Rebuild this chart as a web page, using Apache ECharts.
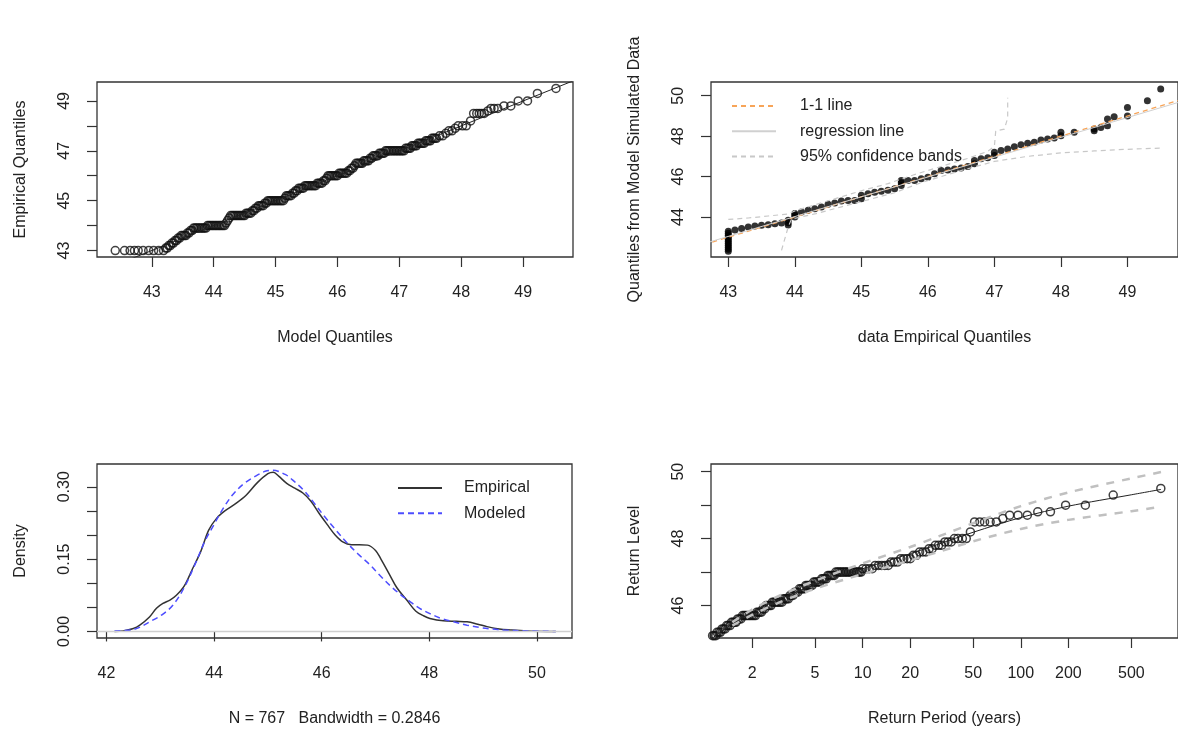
<!DOCTYPE html>
<html>
<head>
<meta charset="UTF-8">
<title>fevd diagnostics</title>
<script src="https://cdn.jsdelivr.net/npm/echarts@6/dist/echarts.min.js"></script>
</head>
<body style="margin:0;background:#fff">
<div id="main" style="width:1178px;height:729px;"></div>
<script type="text/javascript">
// ---- panel 1: qq plot (model quantiles, empirical quantiles)
var qqPoints = [
  [42.41,43],[42.56,43],[42.65,43],[42.72,43],[42.78,43],[42.86,43],[42.95,43],[43.03,43],[43.11,43],[43.19,43],
  [43.225,43.1],[43.25,43.1],[43.275,43.2],[43.3,43.2],[43.325,43.3],[43.35,43.3],[43.375,43.4],[43.4,43.4],
  [43.425,43.5],[43.45,43.5],[43.475,43.6],[43.5,43.6],[43.525,43.6],[43.55,43.6],[43.575,43.7],[43.6,43.7],
  [43.625,43.8],[43.65,43.8],[43.675,43.9],[43.7,43.9],[43.725,43.9],[43.75,43.9],[43.775,43.9],[43.8,43.9],
  [43.825,43.9],[43.85,43.9],[43.875,43.9],
  [43.9,44.0],[43.925,44.0],[43.95,44.0],[43.975,44.0],[44.0,44.0],[44.025,44.0],[44.05,44.0],[44.075,44.0],
  [44.1,44.0],[44.125,44.0],[44.15,44.0],[44.175,44.0],[44.2,44.1],[44.225,44.2],[44.25,44.3],
  [44.275,44.4],[44.3,44.4],[44.325,44.4],[44.35,44.4],[44.375,44.4],[44.4,44.4],[44.425,44.4],[44.45,44.4],
  [44.475,44.4],[44.5,44.4],[44.525,44.5],[44.55,44.5],[44.575,44.5],[44.6,44.5],[44.625,44.6],[44.65,44.6],
  [44.675,44.7],[44.7,44.7],[44.725,44.8],[44.75,44.8],[44.775,44.8],[44.8,44.8],[44.825,44.9],[44.85,44.9],
  [44.875,45.0],[44.9,45.0],[44.925,45.0],[44.95,45.0],[44.975,45.0],[45.0,45.0],[45.025,45.0],[45.05,45.0],
  [45.075,45.0],[45.1,45.0],[45.125,45.0],[45.15,45.1],[45.175,45.2],[45.2,45.2],[45.225,45.2],[45.25,45.2],
  [45.275,45.3],[45.3,45.3],[45.325,45.4],[45.35,45.4],[45.375,45.5],[45.4,45.5],[45.425,45.5],[45.45,45.5],
  [45.475,45.6],[45.5,45.6],[45.525,45.6],[45.55,45.6],[45.575,45.6],[45.6,45.6],[45.625,45.6],[45.65,45.6],
  [45.675,45.7],[45.7,45.7],[45.725,45.7],[45.75,45.7],[45.775,45.8],[45.8,45.8],[45.825,45.9],
  [45.85,46.0],[45.875,46.0],[45.9,46.0],[45.925,46.0],[45.95,46.0],[45.975,46.0],[46.0,46.0],
  [46.025,46.1],[46.05,46.1],[46.075,46.1],[46.1,46.1],[46.125,46.1],[46.15,46.1],
  [46.175,46.2],[46.2,46.2],[46.225,46.3],[46.25,46.3],[46.275,46.4],
  [46.3,46.5],[46.325,46.5],[46.35,46.5],[46.375,46.5],[46.4,46.5],
  [46.425,46.6],[46.45,46.6],[46.475,46.6],[46.5,46.6],[46.525,46.7],[46.55,46.7],
  [46.575,46.8],[46.6,46.8],[46.625,46.8],[46.65,46.8],[46.675,46.9],[46.7,46.9],[46.725,46.9],[46.75,46.9],
  [46.775,47.0],[46.8,47.0],[46.825,47.0],[46.85,47.0],[46.875,47.0],[46.9,47.0],[46.925,47.0],[46.95,47.0],
  [46.975,47.0],[47.0,47.0],[47.025,47.0],[47.05,47.0],[47.075,47.0],
  [47.1,47.1],[47.125,47.1],[47.15,47.1],[47.175,47.1],[47.2,47.2],[47.225,47.2],[47.25,47.2],[47.275,47.2],
  [47.3,47.3],[47.325,47.3],[47.35,47.3],[47.375,47.3],[47.4,47.3],[47.425,47.4],[47.45,47.4],[47.475,47.4],
  [47.5,47.4],[47.525,47.5],[47.55,47.5],[47.575,47.5],[47.6,47.5],
  [47.65,47.6],[47.7,47.6],[47.75,47.7],[47.8,47.8],[47.85,47.8],[47.9,47.9],[47.95,48.0],[48.02,48.0],[48.08,48.0],
  [48.15,48.2],[48.2,48.5],[48.25,48.5],[48.29,48.5],[48.33,48.5],[48.37,48.5],[48.43,48.6],[48.48,48.7],
  [48.53,48.7],[48.59,48.7],[48.69,48.8],[48.8,48.8],[48.92,49.0],[49.07,49.0],[49.23,49.3],[49.53,49.5]
];
var qqLine = [[42, 42], [50, 50]];

// ---- panel 2: empirical quantiles vs quantiles from simulated data
var simPoints = [
  [43,42.3],[43,42.4],[43,42.5],[43,42.6],[43,42.7],[43,42.8],[43,42.9],[43,43.0],[43,43.1],[43,43.2],[43,43.3],
  [43.1,43.35],[43.2,43.43],[43.3,43.5],[43.4,43.55],[43.5,43.59],[43.6,43.62],[43.7,43.67],[43.8,43.7],
  [43.9,43.6],[43.9,43.72],[43.9,43.84],[44.0,44.0],[44.0,44.1],[44.0,44.17],[44.1,44.25],[44.2,44.33],
  [44.3,44.41],[44.4,44.49],[44.5,44.63],[44.6,44.69],[44.7,44.79],[44.8,44.82],[44.9,44.82],[45.0,44.9],
  [45.0,45.07],[45.1,45.15],[45.2,45.23],[45.3,45.27],[45.4,45.32],[45.5,45.4],[45.6,45.56],[45.6,45.7],
  [45.6,45.81],[45.7,45.81],[45.8,45.81],[45.9,45.89],[46.0,45.97],[46.1,46.14],[46.2,46.3],[46.3,46.33],
  [46.4,46.38],[46.5,46.43],[46.6,46.5],[46.7,46.63],[46.7,46.79],[46.8,46.88],[46.9,46.93],[47.0,47.04],
  [47.0,47.2],[47.1,47.29],[47.2,47.37],[47.3,47.48],[47.4,47.58],[47.5,47.65],[47.6,47.7],[47.7,47.81],
  [47.8,47.86],[47.9,47.91],[48.0,48.02],[48.0,48.19],[48.2,48.19],[48.5,48.27],[48.5,48.35],[48.6,48.43],
  [48.7,48.52],[48.7,48.85],[48.8,48.96],[49.0,49.0],[49.0,49.42],[49.3,49.75],[49.5,50.33]
];
var oneToOne = [[42.5, 42.5], [50, 50]];
var regLine = [[42.5, 42.55], [50, 49.9]];
var upperBand = [
  [43.0,43.88],[43.3,43.95],[43.6,44.05],[43.9,44.15],[44.0,44.3],[44.3,44.6],[44.6,44.9],[45.0,45.3],
  [45.4,45.65],[45.8,46.1],[46.2,46.5],[46.6,46.9],[46.9,47.25],[47.0,47.5],[47.02,48.25],[47.15,48.35],
  [47.2,48.9],[47.2,49.9]
];
var lowerBand = [
  [43.8,42.35],[43.9,43.5],[43.95,43.9],[44.3,44.15],[44.7,44.5],[45.1,44.85],[45.5,45.2],[45.9,45.7],
  [46.1,45.9],[46.5,46.3],[47.0,46.75],[47.5,47.0],[48.0,47.17],[48.5,47.27],[49.0,47.35],[49.5,47.41]
];

// ---- panel 3: density
var empDensity = [
  [42.15,0],[42.31,0.001],[42.5,0.006],[42.62,0.013],[42.8,0.03],[42.93,0.048],[43.05,0.058],[43.18,0.065],
  [43.3,0.075],[43.45,0.095],[43.6,0.13],[43.75,0.165],[43.9,0.21],[44.05,0.235],[44.2,0.25],[44.4,0.265],
  [44.6,0.283],[44.8,0.308],[45.0,0.327],[45.1,0.33],[45.2,0.322],[45.35,0.307],[45.5,0.297],[45.65,0.287],
  [45.8,0.27],[45.95,0.245],[46.1,0.222],[46.25,0.2],[46.4,0.185],[46.55,0.18],[46.7,0.18],[46.85,0.179],
  [47.0,0.168],[47.1,0.15],[47.25,0.12],[47.4,0.09],[47.58,0.065],[47.75,0.042],[47.9,0.032],[48.01,0.027],
  [48.26,0.022],[48.5,0.021],[48.7,0.02],[48.9,0.015],[49.07,0.01],[49.3,0.005],[49.5,0.003],[49.81,0.001],
  [50.35,0]
];
var modDensity = [
  [42.15,0.001],[42.5,0.004],[42.87,0.024],[43.05,0.036],[43.24,0.055],[43.45,0.092],[43.65,0.14],[43.82,0.185],
  [44.0,0.222],[44.18,0.257],[44.35,0.284],[44.55,0.306],[44.77,0.322],[44.95,0.332],[45.09,0.334],[45.33,0.325],
  [45.5,0.31],[45.68,0.291],[45.86,0.266],[46.04,0.24],[46.25,0.212],[46.46,0.185],[46.67,0.161],[46.88,0.14],
  [47.1,0.114],[47.3,0.092],[47.47,0.076],[47.64,0.062],[47.82,0.048],[48.01,0.037],[48.22,0.027],[48.45,0.02],
  [48.7,0.013],[48.95,0.008],[49.17,0.005],[49.38,0.003],[49.8,0.001],[50.35,0]
];

// ---- panel 4: return levels (return period in years, level)
var rlPoints = [
  [1.10,45.0],[1.125,45.1],[1.15,45.1],[1.18,45.1],[1.2,45.2],[1.23,45.2],[1.26,45.2],[1.29,45.3],[1.32,45.3],
  [1.35,45.3],[1.38,45.4],[1.41,45.4],[1.45,45.4],[1.48,45.5],[1.51,45.5],[1.55,45.5],[1.58,45.5],[1.62,45.6],
  [1.66,45.6],[1.7,45.6],[1.74,45.7],[1.78,45.7],[1.82,45.7],[1.86,45.7],[1.91,45.7],[1.95,45.7],[2.0,45.7],
  [2.05,45.7],[2.1,45.7],[2.14,45.8],[2.19,45.8],[2.24,45.8],[2.29,45.8],[2.34,45.9],[2.4,45.9],[2.45,46.0],
  [2.51,46.0],[2.57,46.0],[2.63,46.0],[2.69,46.1],[2.75,46.1],[2.82,46.1],[2.88,46.1],[2.95,46.1],[3.02,46.1],
  [3.09,46.1],[3.16,46.2],[3.24,46.2],[3.31,46.2],[3.39,46.2],[3.47,46.3],[3.55,46.3],[3.63,46.3],[3.72,46.4],
  [3.8,46.4],[3.89,46.4],[3.98,46.5],[4.07,46.5],[4.17,46.5],[4.27,46.5],[4.37,46.6],[4.47,46.6],[4.57,46.6],
  [4.68,46.6],[4.79,46.6],[4.9,46.7],[5.01,46.7],[5.13,46.7],[5.25,46.7],[5.37,46.7],[5.5,46.8],[5.62,46.8],
  [5.75,46.8],[5.89,46.8],[6.03,46.9],[6.17,46.9],[6.31,46.9],[6.46,46.9],[6.61,46.9],[6.76,47.0],[6.92,47.0],
  [7.08,47.0],[7.24,47.0],[7.41,47.0],[7.59,47.0],[7.76,47.0],[7.94,47.0],[8.13,47.0],[8.32,47.0],[8.51,47.0],
  [8.71,47.0],[8.91,47.0],[9.12,47.0],[9.33,47.0],[9.55,47.0],[9.77,47.0],[10.0,47.1],[10.5,47.1],[11.0,47.1],
  [11.5,47.1],[12.0,47.2],[12.6,47.2],[13.2,47.2],[13.8,47.2],[14.5,47.2],[15.1,47.3],[15.8,47.3],[16.6,47.3],
  [17.4,47.4],[18.2,47.4],[19.1,47.4],[20.0,47.4],[20.9,47.5],[21.9,47.5],[22.9,47.6],[24.0,47.6],[25.1,47.6],
  [26.3,47.7],[27.5,47.7],[28.8,47.8],[30.2,47.8],[31.6,47.8],[33.1,47.9],[34.7,47.9],[36.3,47.9],[38.0,48.0],
  [40.0,48.0],[42.7,48.0],[45.2,48.0],[48,48.2],[51,48.5],[55,48.5],[59,48.5],[64,48.5],[70,48.5],[77,48.6],
  [85,48.7],[96,48.7],[110,48.7],[128,48.8],[154,48.8],[192,49.0],[256,49.0],[384,49.3],[768,49.5]
];
var rlFit = [
  [1.1,45.0],[1.5,45.45],[2,45.8],[3,46.2],[5,46.62],[10,47.1],[20,47.55],[30,47.83],[50,48.19],
  [100,48.63],[200,48.97],[500,49.31],[770,49.47]
];
var rlUpper = [
  [1.5,45.5],[2,45.88],[3,46.3],[5,46.74],[10,47.26],[20,47.75],[30,48.06],[50,48.46],[100,48.97],
  [200,49.38],[500,49.8],[770,49.99]
];
var rlLower = [
  [1.5,45.4],[2,45.72],[3,46.1],[5,46.5],[10,46.94],[20,47.35],[30,47.6],[50,47.92],[100,48.29],
  [200,48.56],[500,48.82],[770,48.95]
];
var rlTicks = [2, 5, 10, 20, 50, 100, 200, 500];

var myChart = echarts.init(document.getElementById('main'));
var font = '"Liberation Sans", Arial, sans-serif';
var ink = '#222';

function toLog(pairs) {
  return pairs.map(function (p) { return [Math.log10(p[0]), p[1]]; });
}

function valueAxis(grid, min, max, ticks, labels, position, name, fmt) {
  var vertical = position === 'left';
  return {
    type: 'value', gridIndex: grid, min: min, max: max, position: position,
    name: name, nameLocation: 'middle', nameGap: vertical ? 68 : 73,
    nameTextStyle: {color: ink, fontSize: 16, fontFamily: font},
    axisLine: {show: false},
    splitLine: {show: false},
    axisTick: {show: true, inside: false, length: 10, customValues: ticks,
      lineStyle: {color: '#333', width: 1.2}},
    axisLabel: {customValues: labels, margin: vertical ? 24 : 28, rotate: vertical ? 90 : 0,
      color: ink, fontSize: 16, fontFamily: font,
      formatter: fmt || function (v) { return String(v); }}
  };
}

var ring = {color: 'rgba(0,0,0,0)', borderColor: '#111', borderWidth: 1.5};
var gridBox = {show: true, borderColor: '#333', borderWidth: 1.3, backgroundColor: 'rgba(0,0,0,0)'};
var legendText = {color: ink, fontSize: 16, fontFamily: font};

var option = {
  animation: false,
  backgroundColor: '#fff',
  grid: [
    Object.assign({left: 97, top: 82, width: 476, height: 175}, gridBox),
    Object.assign({left: 711, top: 82, width: 476, height: 175}, gridBox),
    Object.assign({left: 97, top: 464, width: 475, height: 174}, gridBox),
    Object.assign({left: 711, top: 464, width: 476, height: 174}, gridBox)
  ],
  xAxis: [
    valueAxis(0, 42.115, 49.805, [43,44,45,46,47,48,49], [43,44,45,46,47,48,49], 'bottom', 'Model Quantiles'),
    valueAxis(1, 42.74, 49.76, [43,44,45,46,47,48,49], [43,44,45,46,47,48,49], 'bottom', 'data Empirical Quantiles'),
    valueAxis(2, 41.825, 50.65, [42,44,46,48,50], [42,44,46,48,50], 'bottom', 'N = 767   Bandwidth = 0.2846'),
    valueAxis(3, 0.041, 2.994, rlTicks.map(Math.log10), rlTicks.map(Math.log10), 'bottom', 'Return Period (years)',
      function (v) { return String(Math.round(Math.pow(10, v))); })
  ],
  yAxis: [
    valueAxis(0, 42.74, 49.76, [43,44,45,46,47,48,49], [43,45,47,49], 'left', 'Empirical Quantiles'),
    valueAxis(1, 42.02, 50.68, [44,46,48,50], [44,46,48,50], 'left', 'Quantiles from Model Simulated Data'),
    valueAxis(2, -0.0136, 0.3472, [0,0.05,0.1,0.15,0.2,0.25,0.3], [0,0.15,0.3], 'left', 'Density',
      function (v) { return v.toFixed(2); }),
    valueAxis(3, 45.03, 50.23, [46,47,48,49,50], [46,48,50], 'left', 'Return Level')
  ],
  legend: [
    {
      data: ['1-1 line', 'regression line', '95% confidence bands'],
      orient: 'vertical', left: 731, top: 98, padding: 0, itemWidth: 44, itemHeight: 14, itemGap: 9.3,
      selectedMode: false, itemStyle: {opacity: 0},
      textStyle: Object.assign({padding: [0, 0, 0, 19]}, legendText)
    },
    {
      data: ['Empirical', 'Modeled'],
      orient: 'vertical', left: 397, top: 480, padding: 0, itemWidth: 44, itemHeight: 14, itemGap: 9.3,
      selectedMode: false, itemStyle: {opacity: 0},
      textStyle: Object.assign({padding: [0, 0, 0, 17]}, legendText)
    }
  ],
  series: [
    // panel 1
    {type: 'scatter', xAxisIndex: 0, yAxisIndex: 0, data: qqPoints, symbol: 'circle', symbolSize: 8, itemStyle: ring},
    {type: 'line', xAxisIndex: 0, yAxisIndex: 0, data: qqLine, symbol: 'none', lineStyle: {color: '#222', width: 1}},
    // panel 2
    {type: 'scatter', xAxisIndex: 1, yAxisIndex: 1, data: simPoints, symbol: 'circle', symbolSize: 7,
      itemStyle: {color: '#000'}},
    {name: '1-1 line', type: 'line', xAxisIndex: 1, yAxisIndex: 1, data: oneToOne, symbol: 'none',
      lineStyle: {color: '#f7a458', width: 1.3, type: [5, 4]}},
    {name: 'regression line', type: 'line', xAxisIndex: 1, yAxisIndex: 1, data: regLine, symbol: 'none',
      lineStyle: {color: '#d0d0d0', width: 1}},
    {name: '95% confidence bands', type: 'line', xAxisIndex: 1, yAxisIndex: 1, data: upperBand, symbol: 'none',
      lineStyle: {color: '#c8c8c8', width: 1.2, type: [5, 4]}},
    {name: '95% confidence bands', type: 'line', xAxisIndex: 1, yAxisIndex: 1, data: lowerBand, symbol: 'none',
      lineStyle: {color: '#c8c8c8', width: 1.2, type: [5, 4]}},
    // panel 3
    {name: 'Empirical', type: 'line', xAxisIndex: 2, yAxisIndex: 2, data: empDensity, symbol: 'none',
      smooth: 0.35, lineStyle: {color: '#333', width: 1.5},
      markLine: {silent: true, symbol: 'none', label: {show: false},
        lineStyle: {color: '#cfcfcf', type: 'solid', width: 1.3}, data: [{yAxis: 0}]}},
    {name: 'Modeled', type: 'line', xAxisIndex: 2, yAxisIndex: 2, data: modDensity, symbol: 'none',
      smooth: 0.35, lineStyle: {color: '#4d4dff', width: 1.5, type: [6, 4]}},
    // panel 4
    {type: 'scatter', xAxisIndex: 3, yAxisIndex: 3, data: toLog(rlPoints), symbol: 'circle', symbolSize: 8, itemStyle: ring},
    {type: 'line', xAxisIndex: 3, yAxisIndex: 3, data: toLog(rlFit), symbol: 'none', smooth: 0.3,
      lineStyle: {color: '#222', width: 1}},
    {type: 'line', xAxisIndex: 3, yAxisIndex: 3, data: toLog(rlUpper), symbol: 'none', smooth: 0.3,
      lineStyle: {color: '#c0c0c0', width: 2.5, type: [8, 8]}},
    {type: 'line', xAxisIndex: 3, yAxisIndex: 3, data: toLog(rlLower), symbol: 'none', smooth: 0.3,
      lineStyle: {color: '#c0c0c0', width: 2.5, type: [8, 8]}}
  ]
};
myChart.setOption(option);
</script>
</body>
</html>
